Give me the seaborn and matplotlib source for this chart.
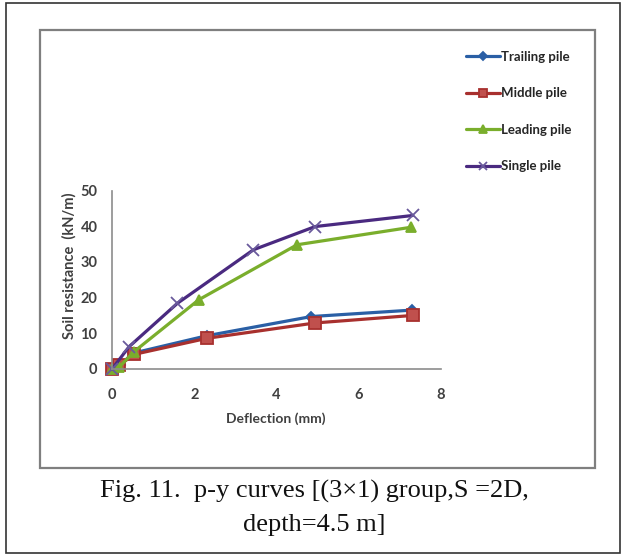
import pandas as pd
import seaborn as sns
import matplotlib.pyplot as plt
from matplotlib.patches import Rectangle

# values
series_names = ['Trailing pile', 'Middle pile', 'Leading pile', 'Single pile']

trailing_x = [0, 0.2, 0.5, 2.3, 4.85, 7.3]
trailing_y = [0, 1.0, 4.4, 9.3, 14.7, 16.5]

middle_x = [0, 0.18, 0.54, 2.31, 4.94, 7.31]
middle_y = [0, 1.1, 4.1, 8.6, 12.9, 15.0]

leading_x = [0, 0.18, 0.54, 2.11, 4.5, 7.27]
leading_y = [0, 0.6, 4.9, 19.4, 34.8, 39.7]

single_x = [0, 0.42, 1.59, 3.44, 4.94, 7.31]
single_y = [0, 6.3, 18.4, 33.4, 39.9, 43.0]

colors = {'Trailing pile': '#2A5FA5', 'Middle pile': '#A8302E',
          'Leading pile': '#7AAE2C', 'Single pile': '#4A2A80'}
marker_map = {'Trailing pile': 'D', 'Middle pile': 's',
              'Leading pile': '^', 'Single pile': 'x'}
face_map = {'Trailing pile': '#2A5FA5', 'Middle pile': '#C0504D',
            'Leading pile': '#7AAE2C', 'Single pile': '#4A2A80'}
edge_map = {'Trailing pile': '#2A5FA5', 'Middle pile': '#A8302E',
            'Leading pile': '#7AAE2C', 'Single pile': '#6A5A9C'}
size_map = {'Trailing pile': 5, 'Middle pile': 8, 'Leading pile': 7, 'Single pile': 8}

frames = []
for name, xs, ys in zip(series_names,
                        [trailing_x, middle_x, leading_x, single_x],
                        [trailing_y, middle_y, leading_y, single_y]):
    frames.append(pd.DataFrame({'deflection': xs, 'resistance': ys, 'pile': name}))
df = pd.concat(frames, ignore_index=True)

sns.set_style('white')
plt.rcParams['font.family'] = ['Lato', 'DejaVu Sans']

fig = plt.figure(figsize=(6.23, 5.56), dpi=100)
W, H = 623, 556

# outer frame and chart box
fig.patches.append(Rectangle((6 / W, 1 - 553 / H), 614 / W, 550 / H,
                             transform=fig.transFigure, fill=False,
                             edgecolor='#333333', lw=1.2))
fig.patches.append(Rectangle((40 / W, 1 - 468 / H), 555 / W, 438 / H,
                             transform=fig.transFigure, fill=False,
                             edgecolor='#7f7f7f', lw=1.6))

ax = fig.add_axes([112 / W, 1 - 369 / H, 329 / W, 178.5 / H])
for name in series_names:
    sub = df[df['pile'] == name]
    sns.lineplot(data=sub, x='deflection', y='resistance', color=colors[name],
                 marker=marker_map[name], markersize=size_map[name],
                 markerfacecolor=face_map[name], markeredgecolor=edge_map[name],
                 markeredgewidth=1.3, linewidth=2.3, sort=False, ax=ax,
                 label=name, clip_on=False)

ax.set_xlim(0, 8)
ax.set_ylim(0, 50)
ax.set_xticks([0, 2, 4, 6, 8])
ax.set_yticks([0, 10, 20, 30, 40, 50])
for s in ['top', 'right']:
    ax.spines[s].set_visible(False)
for s in ['left', 'bottom']:
    ax.spines[s].set_color('#8c8c8c')
    ax.spines[s].set_linewidth(1.2)
ax.tick_params(axis='both', direction='out', length=4, width=1, color='#8c8c8c',
               labelsize=10.5, labelcolor='#404040')
ax.tick_params(axis='x', pad=10)
ax.tick_params(axis='y', pad=6.5)
for lbl in ax.get_xticklabels() + ax.get_yticklabels():
    lbl.set_fontweight('bold')

ax.set_xlabel('Deflection (mm)', fontsize=10, fontweight='bold', color='#404040')
ax.set_ylabel('Soil resistance  (kN/m)', fontsize=10.5, fontweight='bold', color='#404040')
ax.xaxis.set_label_coords((276 - 112) / 329, -(412 - 369) / 178.5)
ax.yaxis.set_label_coords(-(112 - 77) / 329, (369 - 266) / 178.5)

# legend on the right
handles, labels = ax.get_legend_handles_labels()
ax.get_legend().remove()
fig.legend(handles, labels, loc='upper left', bbox_to_anchor=(466 / W, 1 - 51 / H),
           frameon=False, labelspacing=1.85, handlelength=2.6,
           handletextpad=0.05, borderaxespad=0, borderpad=0, markerscale=0.8,
           prop={'weight': 'bold', 'size': 9.5})

fig.text(0.504, 1 - 498 / H, 'Fig. 11.  p-y curves [(3×1) group,S =2D,',
         ha='center', va='baseline', fontsize=19, family='Liberation Serif', color='#111111')
fig.text(0.504, 1 - 531 / H, 'depth=4.5 m]',
         ha='center', va='baseline', fontsize=19, family='Liberation Serif', color='#111111')

fig.savefig('out.png', dpi=100)
